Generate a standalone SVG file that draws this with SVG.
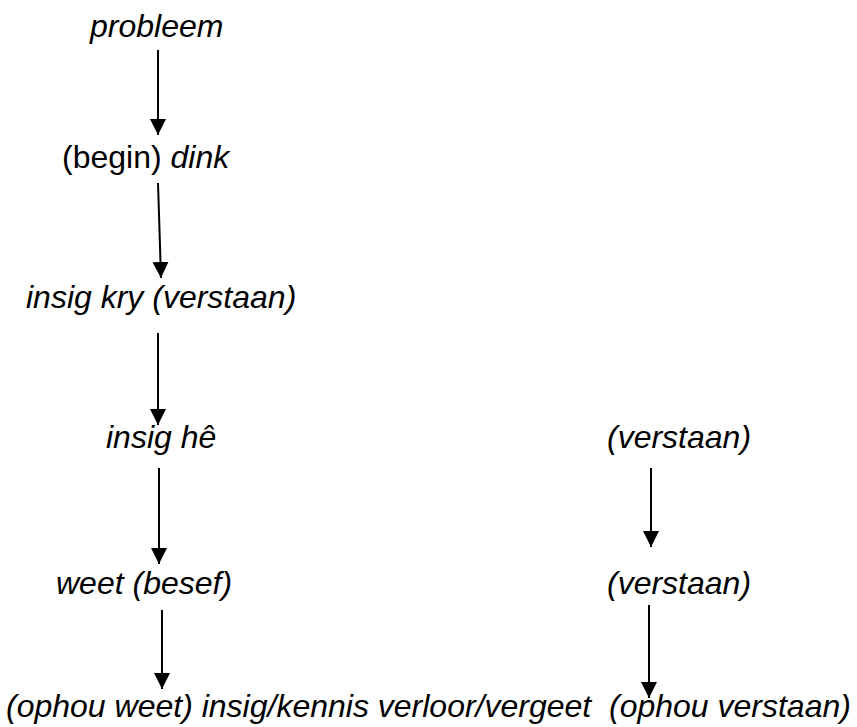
<svg xmlns="http://www.w3.org/2000/svg" width="857" height="727" viewBox="0 0 857 727">
  <style>
    text { font-family: "Liberation Sans", Arial, sans-serif; font-size: 32px; fill: #000; }
    .it { font-style: italic; }
    .up { font-style: normal; }
    .conn line { stroke: #000; stroke-width: 2; fill: none; marker-end: url(#head); }
  </style>
  <defs>
    <marker id="head" markerUnits="userSpaceOnUse" markerWidth="17" markerHeight="17" refX="16" refY="8" orient="auto">
      <path d="M0,0 L16,8 L0,16 Z" fill="#000"/>
    </marker>
  </defs>
  <rect width="857" height="727" fill="#fff"/>

  <!-- nodes -->
  <g id="probleem"><text class="it" x="90" y="37">probleem</text></g>
  <g id="begin-dink"><text x="62" y="168"><tspan class="up">(begin)</tspan> <tspan class="it">dink</tspan></text></g>
  <g id="insig-kry"><text class="it" x="26" y="308">insig kry (verstaan)</text></g>
  <g id="insig-he"><text class="it" x="106" y="448">insig hê</text></g>
  <g id="verstaan-1"><text class="it" x="607" y="448">(verstaan)</text></g>
  <g id="weet"><text class="it" x="56" y="594">weet (besef)</text></g>
  <g id="verstaan-2"><text class="it" x="607" y="594">(verstaan)</text></g>
  <g id="ophou"><text class="it" x="6" y="717" xml:space="preserve">(ophou weet) insig/kennis verloor/vergeet  (ophou verstaan)</text></g>

  <!-- connectors -->
  <g class="conn" id="connectors">
    <line x1="158" y1="50" x2="158" y2="135"/>
    <line x1="158" y1="183" x2="161" y2="278"/>
    <line x1="158" y1="333" x2="158" y2="425"/>
    <line x1="159" y1="468" x2="159" y2="564"/>
    <line x1="162" y1="610" x2="162" y2="689"/>
    <line x1="651" y1="468" x2="651" y2="547"/>
    <line x1="649" y1="605" x2="649" y2="698"/>
  </g>
</svg>
